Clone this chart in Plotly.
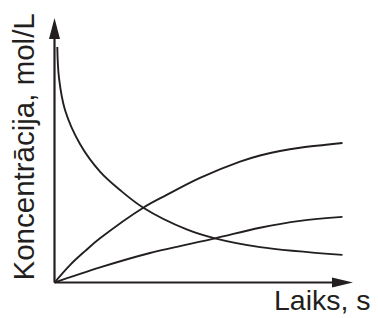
import plotly.graph_objects as go

# Data (time in arbitrary units, concentration in mol/L)
t_dec = [0.097, 0.156, 0.365, 0.885, 1.58, 2.274, 3.083, 4.59, 5.573, 7.135, 10.0]
c_dec = [0.998, 0.867, 0.731, 0.587, 0.470, 0.392, 0.317, 0.225, 0.187, 0.150, 0.117]

t_up = [0.0, 0.538, 1.059, 1.58, 3.083, 3.896, 5.052, 6.441, 7.135, 7.83, 8.524, 10.0]
c_up = [0.0, 0.074, 0.133, 0.187, 0.317, 0.371, 0.443, 0.512, 0.538, 0.557, 0.571, 0.591]

t_low = [0.0, 1.58, 3.316, 5.573, 7.135, 8.524, 10.0]
c_low = [0.0, 0.064, 0.125, 0.187, 0.232, 0.261, 0.278]

x_label = "Laiks, s"
y_label = "Koncentrācija, mol/L"

OFF = 8                      # page body margin
W, H = 378 - OFF, 318 - OFF
ox, oy = 54.5 - OFF, 282.5 - OFF   # origin in figure pixels
sx, sy = 28.8, 236.0               # pixels per data unit

xr = [(0 - ox) / sx, (W - ox) / sx]
yr = [(oy - H) / sy, (oy - 0) / sy]

line_col = "#231f20"
fig = go.Figure()
for tx, cy in [(t_dec, c_dec), (t_up, c_up), (t_low, c_low)]:
    fig.add_trace(go.Scatter(x=tx, y=cy, mode="lines",
                             line=dict(color=line_col, width=1.9, shape="spline", smoothing=1.0),
                             hoverinfo="skip", showlegend=False))

x_tip = (353 - OFF - ox) / sx
y_tip = (oy - (18 - OFF)) / sy
shapes = [
    dict(type="line", xref="x", yref="y", x0=0, y0=0, x1=0, y1=(oy - (36 - OFF)) / sy,
         line=dict(color=line_col, width=2.2)),
    dict(type="line", xref="x", yref="y", x0=0, y0=0, x1=(336 - OFF - ox) / sx, y1=0,
         line=dict(color=line_col, width=2.2)),
    # arrowheads
    dict(type="path", xref="x", yref="y", xsizemode="pixel", ysizemode="pixel",
         xanchor=0, yanchor=y_tip, path="M0,0 L-5.5,-21 L5.5,-21 Z",
         fillcolor=line_col, line=dict(width=0)),
    dict(type="path", xref="x", yref="y", xsizemode="pixel", ysizemode="pixel",
         xanchor=x_tip, yanchor=0, path="M0,0 L-21,5 L-21,-5 Z",
         fillcolor=line_col, line=dict(width=0)),
]

fam = "Liberation Sans, Arial, sans-serif"
annotations = [
    dict(text=x_label, xref="paper", yref="paper", x=(373 - OFF) / W, y=0,
         xanchor="right", yanchor="bottom", showarrow=False,
         font=dict(family=fam, size=28.5, color=line_col)),
    dict(text=y_label, xref="paper", yref="paper", x=(23 - OFF) / W, y=1 - (147.5 - OFF) / H,
         xanchor="center", yanchor="middle", textangle=-90, showarrow=False,
         font=dict(family=fam, size=29.5, color=line_col)),
]

fig.update_layout(
    width=W, height=H, margin=dict(l=0, r=0, t=0, b=0),
    paper_bgcolor="white", plot_bgcolor="white",
    xaxis=dict(range=xr, visible=False, fixedrange=True),
    yaxis=dict(range=yr, visible=False, fixedrange=True),
    shapes=shapes, annotations=annotations, showlegend=False,
)
fig.write_html("out.html")
